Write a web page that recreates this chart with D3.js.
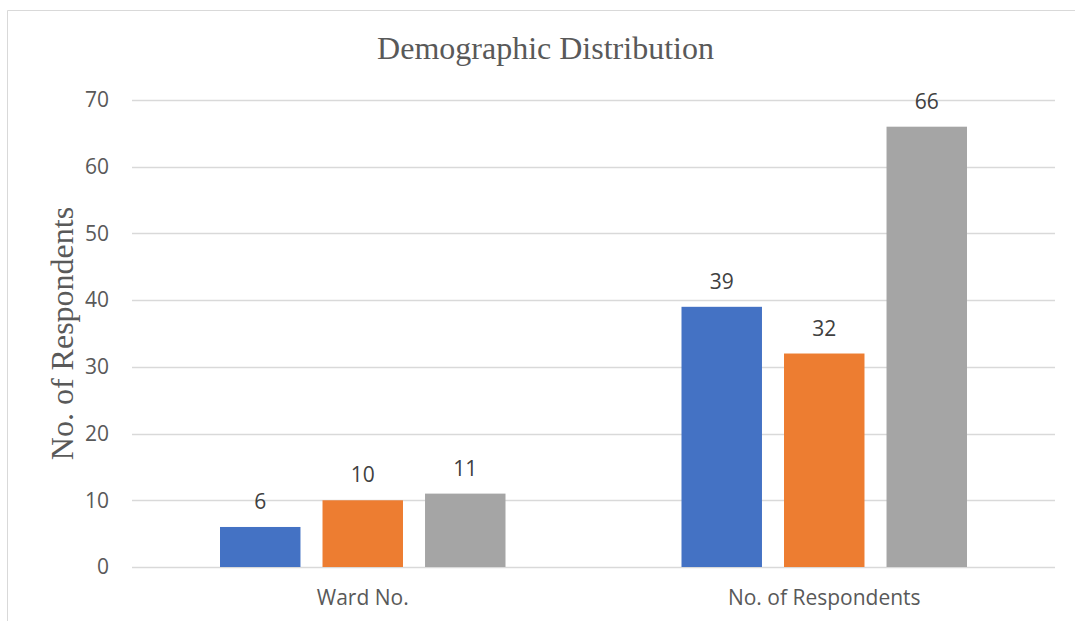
<!DOCTYPE html>
<html>
<head>
<meta charset="utf-8">
<script src="https://cdn.jsdelivr.net/npm/d3@7"></script>
<style>
  body { margin: 0; background: #fff; }
  svg { display: block; }
</style>
</head>
<body>
<div id="chart"></div>
<script>
// chart values
var categories = ["Ward No.", "No. of Respondents"];
var seriesNames = ["Series1", "Series2", "Series3"];
var series1 = [6, 39];
var series2 = [10, 32];
var series3 = [11, 66];
var yTicks = [0, 10, 20, 30, 40, 50, 60, 70];
var colors = ["#4472C4", "#ED7D31", "#A5A5A5"];

var width = 1075, height = 621;
var plotLeft = 132, plotRight = 1055, plotTop = 100, plotBottom = 567;

var svg = d3.select('#chart')
    .append('svg')
    .attr('width', width)
    .attr('height', height)

// chart frame (only top and left edges visible in the crop)
svg.append('line')
    .attr('x1', 7.5).attr('x2', width).attr('y1', 10.5).attr('y2', 10.5)
    .style('stroke', '#d9d9d9').style('stroke-width', 1)
svg.append('line')
    .attr('x1', 7.5).attr('x2', 7.5).attr('y1', 10.5).attr('y2', height)
    .style('stroke', '#d9d9d9').style('stroke-width', 1)

var scaleY = d3.scaleLinear()
    .domain([0, 70])
    .range([plotBottom, plotTop])

var scaleX = d3.scaleBand()
    .domain(categories)
    .range([plotLeft, plotRight])

var groupWidth = 285.5
var scaleSeries = d3.scaleBand()
    .domain(seriesNames)
    .range([-groupWidth / 2, groupWidth / 2])
    .paddingInner(0.215)

// gridlines
svg.append('g')
    .selectAll('line')
    .data(yTicks)
    .enter()
    .append('line')
    .attr('x1', plotLeft)
    .attr('x2', plotRight)
    .attr('y1', function(d) { return Math.round(scaleY(d)) + 0.5 })
    .attr('y2', function(d) { return Math.round(scaleY(d)) + 0.5 })
    .style('stroke', '#d9d9d9')
    .style('stroke-width', 1.3)

// y axis labels
var yAxisG = svg.append('g')
    .attr('transform', 'translate(' + (plotLeft - 23) + ',0)')
    .call(d3.axisLeft(scaleY).tickValues(yTicks).tickSize(0).tickPadding(0))
yAxisG.select('.domain').remove()
yAxisG.selectAll('text')
    .style('font-family', '"Open Sans", sans-serif')
    .style('font-size', '21px')
    .style('fill', '#595959')

// x axis labels
var xAxisG = svg.append('g')
    .attr('transform', 'translate(0,' + plotBottom + ')')
    .call(d3.axisBottom(scaleX).tickSize(0).tickPadding(23))
xAxisG.select('.domain').remove()
xAxisG.selectAll('text')
    .style('font-family', '"Open Sans", sans-serif')
    .style('font-size', '21px')
    .style('fill', '#595959')

var allSeries = [series1, series2, series3]
var rows = []
allSeries.forEach(function(vals, s) {
    vals.forEach(function(v, i) {
        rows.push({ series: seriesNames[s], color: colors[s], category: categories[i], value: v })
    })
})

var rects = svg.append('g')
    .selectAll('rect')
    .data(rows)
    .enter()
    .append('rect')
    .attr('x', function(d) { return scaleX(d.category) + scaleX.bandwidth() / 2 + scaleSeries(d.series) })
    .attr('y', function(d) { return scaleY(d.value) })
    .attr('width', scaleSeries.bandwidth())
    .attr('height', function(d) { return scaleY(0) - scaleY(d.value) })
    .style('fill', function(d) { return d.color })

// data labels
svg.append('g')
    .selectAll('text')
    .data(rows)
    .enter()
    .append('text')
    .attr('x', function(d) { return scaleX(d.category) + scaleX.bandwidth() / 2 + scaleSeries(d.series) + scaleSeries.bandwidth() / 2 })
    .attr('y', function(d) { return scaleY(d.value) - 18 })
    .attr('text-anchor', 'middle')
    .style('font-family', '"Open Sans", sans-serif')
    .style('font-size', '21px')
    .style('fill', '#404040')
    .text(function(d) { return d.value })

// title
svg.append('text')
    .attr('x', (plotLeft + plotRight) / 2 - 48)
    .attr('y', 59)
    .attr('text-anchor', 'middle')
    .style('font-family', '"Liberation Serif", "Times New Roman", serif')
    .style('font-size', '32px')
    .style('fill', '#595959')
    .text('Demographic Distribution')

// y axis title
svg.append('text')
    .attr('transform', 'translate(73,' + (plotTop + plotBottom) / 2 + ') rotate(-90)')
    .attr('text-anchor', 'middle')
    .style('font-family', '"Liberation Serif", "Times New Roman", serif')
    .style('font-size', '32px')
    .style('fill', '#595959')
    .text('No. of Respondents')
</script>
</body>
</html>
